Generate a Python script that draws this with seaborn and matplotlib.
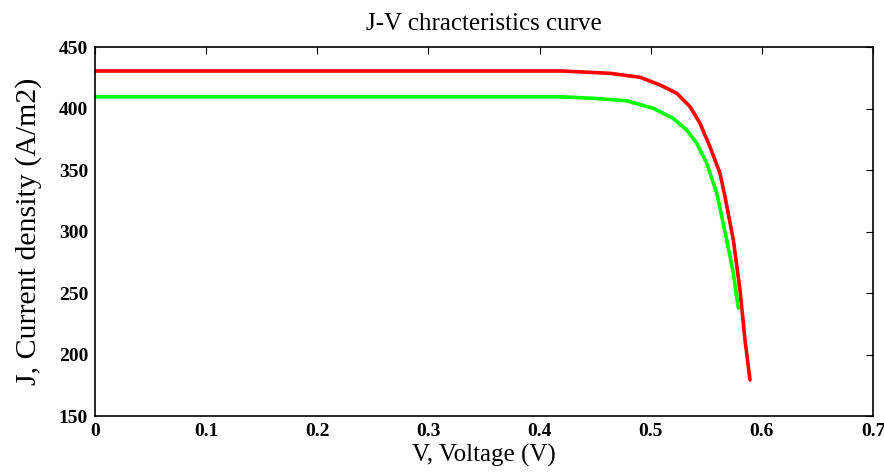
import matplotlib.pyplot as plt
import seaborn as sns
import pandas as pd

# values
v_red = [0.0, 0.10, 0.20, 0.30, 0.40, 0.42, 0.4634, 0.4904, 0.5084, 0.5234, 0.5353, 0.5443, 0.5533,
         0.5623, 0.5668, 0.5743, 0.5803, 0.5848, 0.5893]
j_red = [430.5, 430.5, 430.5, 430.5, 430.5, 430.5, 428.6, 425.4, 419.1, 412.4, 401.5, 388.0, 368.9,
         347.3, 328.3, 293.1, 252.4, 211.8, 179.3]

v_green = [0.0, 0.10, 0.20, 0.30, 0.40, 0.4184, 0.4481, 0.4784, 0.5021, 0.5201, 0.5324, 0.5414, 0.5504,
           0.5594, 0.5684, 0.5743, 0.5788]
j_green = [409.5, 409.5, 409.5, 409.5, 409.5, 409.5, 408.3, 406.3, 400.2, 392.0, 382.5, 371.7, 355.4,
           331.1, 293.1, 266.3, 237.6]

x_ticks = [0, 0.1, 0.2, 0.3, 0.4, 0.5, 0.6, 0.7]
x_tick_labels = ['0', '0.1', '0.2', '0.3', '0.4', '0.5', '0.6', '0.7']
y_ticks = [150, 200, 250, 300, 350, 400, 450]

df = pd.concat([
    pd.DataFrame({'V': v_red, 'J': j_red, 'curve': 'red'}),
    pd.DataFrame({'V': v_green, 'J': j_green, 'curve': 'green'}),
])

sns.set_style('white', {'text.color': 'black', 'axes.labelcolor': 'black',
                        'xtick.color': 'black', 'ytick.color': 'black'})
plt.rcParams['font.family'] = ['Liberation Serif', 'DejaVu Serif']

fig = plt.figure(figsize=(8.84, 4.72), dpi=100)
ax = fig.add_axes([0.1075, 0.1186, 0.8801, 0.7818])

sns.lineplot(data=df, x='V', y='J', hue='curve', palette={'red': '#ff0000', 'green': '#00ff00'},
             sort=False, estimator=None, linewidth=2.6, legend=False, ax=ax)

ax.set_xlim(0, 0.7)
ax.set_ylim(150, 450)
ax.set_xticks(x_ticks)
ax.set_xticklabels(x_tick_labels)
ax.set_yticks(y_ticks)
ax.tick_params(direction='in', top=True, right=True, length=5, width=0.8, labelsize=14, pad=5,
               colors='black')
for lbl in ax.get_xticklabels() + ax.get_yticklabels():
    lbl.set_fontweight('bold')
for s in ax.spines.values():
    s.set_color('black')
    s.set_linewidth(1.2)

ax.set_title('J-V chracteristics curve', fontsize=18, pad=12, color='black')
ax.set_xlabel('V, Voltage (V)', fontsize=18, labelpad=3, color='black')
ax.set_ylabel('J, Current density (A/m2)', fontsize=21.5, labelpad=12, color='black')

fig.savefig('out.png', dpi=100)
